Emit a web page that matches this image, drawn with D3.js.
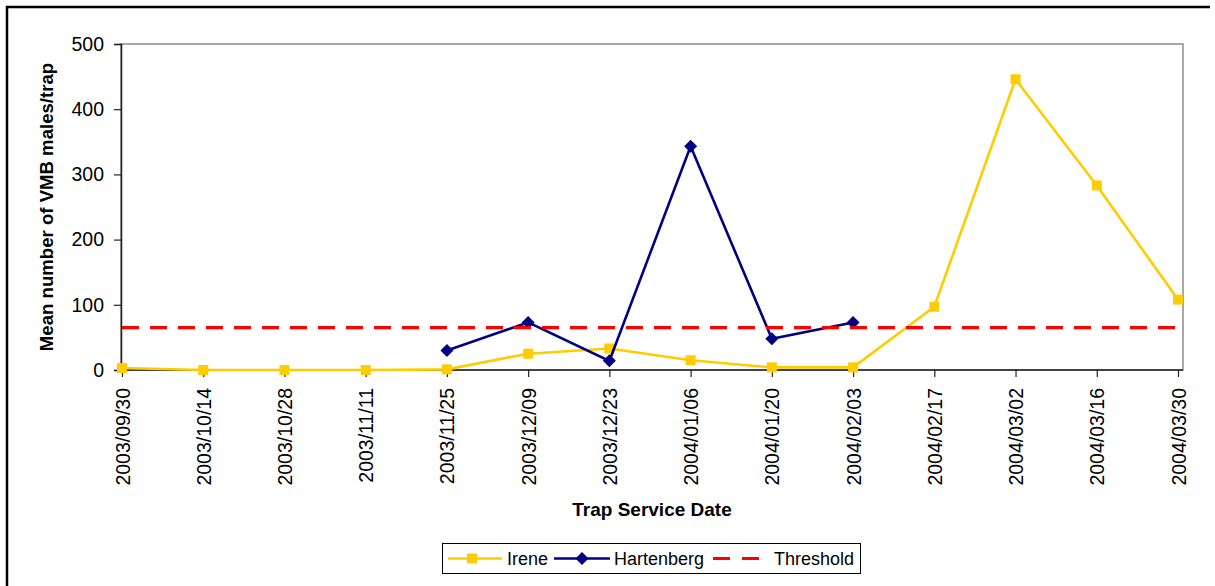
<!DOCTYPE html>
<html>
<head>
<meta charset="utf-8">
<script src="https://cdn.jsdelivr.net/npm/d3@7"></script>
<style>
  body { margin: 0; background: #fff; }
  text { font-family: "Liberation Sans", Arial, sans-serif; fill: #000; }
</style>
</head>
<body>
<div id="chart"></div>
<script>
//////////////////////////////////////////////////////////////////////////////
// Data

var dates = ["2003/09/30", "2003/10/14", "2003/10/28", "2003/11/11", "2003/11/25",
             "2003/12/09", "2003/12/23", "2004/01/06", "2004/01/20", "2004/02/03",
             "2004/02/17", "2004/03/02", "2004/03/16", "2004/03/30"];
var irene = [3, 0, 0, 0, 1, 25, 33, 15, 4, 4, 97, 446, 283, 108];
var hartenberg = [null, null, null, null, 30, 73, 14, 343, 48, 73, null, null, null, null];
var threshold = [65, 65, 65, 65, 65, 65, 65, 65, 65, 65, 65, 65, 65, 65];
var yTicks = [0, 100, 200, 300, 400, 500];

//////////////////////////////////////////////////////////////////////////////
// Preliminaries

var width = 1215, height = 586;
var plotLeft = 121, plotRight = 1183, plotTop = 44, plotBottom = 370;

var xScale = d3.scalePoint().domain(dates).range([122, 1178]);
var yScale = d3.scaleLinear().domain([0, 500]).range([plotBottom, plotTop]);

var svg = d3.select("#chart")
    .append("svg")
    .attr("width", width)
    .attr("height", height);

// outer chart border (only top and left visible)
svg.append("path")
    .attr("d", "M7,586V7H1210")
    .attr("fill", "none")
    .attr("stroke", "#000")
    .attr("stroke-width", 2.5);

// plot frame
svg.append("rect")
    .attr("x", plotLeft).attr("y", plotTop)
    .attr("width", plotRight - plotLeft)
    .attr("height", plotBottom - plotTop)
    .attr("fill", "none")
    .attr("stroke", "#8c8c8c")
    .attr("stroke-width", 1.5);

//////////////////////////////////////////////////////////////////////////////
// Axes

var yAxis = svg.append("g")
    .attr("transform", "translate(" + plotLeft + ",0)")
    .call(d3.axisLeft(yScale).tickValues(yTicks).tickSize(7).tickPadding(10));
yAxis.select(".domain").attr("stroke", "#222").attr("stroke-width", 1.5);
yAxis.selectAll(".tick line").attr("stroke", "#222").attr("stroke-width", 1.2);
yAxis.selectAll(".tick text")
    .style("font-family", '"Liberation Sans", Arial, sans-serif')
    .style("font-size", "19.5px")
    .attr("fill", "#000");

var xAxis = svg.append("g")
    .attr("transform", "translate(0," + plotBottom + ")")
    .call(d3.axisBottom(xScale).tickSize(7).tickSizeOuter(0));
xAxis.select(".domain")
    .attr("d", "M" + plotLeft + ",0H" + plotRight)
    .attr("stroke", "#222").attr("stroke-width", 1.5);
xAxis.selectAll(".tick line").attr("stroke", "#222").attr("stroke-width", 1.2);
xAxis.selectAll(".tick text")
    .style("font-family", '"Liberation Sans", Arial, sans-serif')
    .style("font-size", "19.5px")
    .attr("fill", "#000")
    .attr("text-anchor", "end")
    .attr("transform", "rotate(-90)")
    .attr("x", -18)
    .attr("y", 0)
    .attr("dy", "0.36em");

// axis titles
svg.append("text")
    .attr("x", 652).attr("y", 516)
    .attr("text-anchor", "middle")
    .style("font-size", "19px")
    .style("font-weight", "bold")
    .text("Trap Service Date");

svg.append("text")
    .attr("transform", "translate(53,207) rotate(-90)")
    .attr("text-anchor", "middle")
    .style("font-size", "18.6px")
    .style("font-weight", "bold")
    .text("Mean number of VMB males/trap");

//////////////////////////////////////////////////////////////////////////////
// Series

function seriesLine(values) {
    return d3.line()
        .defined(function(d) { return d != null; })
        .x(function(d, i) { return xScale(dates[i]); })
        .y(function(d) { return yScale(d); })(values);
}

function pointsOf(values) {
    return values
        .map(function(d, i) { return { date: dates[i], v: d }; })
        .filter(function(d) { return d.v != null; });
}

var diamond = "M0,-6.5L6.5,0L0,6.5L-6.5,0Z";

// Irene
svg.append("path")
    .attr("d", seriesLine(irene))
    .attr("fill", "none")
    .attr("stroke", "#FFCC00")
    .attr("stroke-width", 2.6);
svg.append("g")
    .selectAll("rect")
    .data(pointsOf(irene))
    .enter()
    .append("rect")
    .attr("x", function(d) { return xScale(d.date) - 5; })
    .attr("y", function(d) { return yScale(d.v) - 5; })
    .attr("width", 10)
    .attr("height", 10)
    .attr("fill", "#FFCC00");

// Hartenberg
svg.append("path")
    .attr("d", seriesLine(hartenberg))
    .attr("fill", "none")
    .attr("stroke", "#000080")
    .attr("stroke-width", 2.6);
svg.append("g")
    .selectAll("path")
    .data(pointsOf(hartenberg))
    .enter()
    .append("path")
    .attr("transform", function(d) {
        return "translate(" + xScale(d.date) + "," + yScale(d.v) + ")";
    })
    .attr("d", diamond)
    .attr("fill", "#000080");

// Threshold
svg.append("path")
    .attr("d", seriesLine(threshold))
    .attr("fill", "none")
    .attr("stroke", "#FF0000")
    .attr("stroke-width", 3.2)
    .attr("stroke-dasharray", "17,11");

//////////////////////////////////////////////////////////////////////////////
// Legend

var legend = svg.append("g");
legend.append("rect")
    .attr("x", 442.5).attr("y", 543.5)
    .attr("width", 418).attr("height", 30)
    .attr("fill", "#fff")
    .attr("stroke", "#000")
    .attr("stroke-width", 1);

var ly = 558.5;
legend.append("line")
    .attr("x1", 448).attr("x2", 502).attr("y1", ly).attr("y2", ly)
    .attr("stroke", "#FFCC00").attr("stroke-width", 2.6);
legend.append("rect")
    .attr("x", 467).attr("y", ly - 5).attr("width", 10).attr("height", 10)
    .attr("fill", "#FFCC00");
legend.append("text")
    .attr("x", 507).attr("y", ly).attr("dy", "0.35em")
    .style("font-size", "18px")
    .text("Irene");

legend.append("line")
    .attr("x1", 554).attr("x2", 610).attr("y1", ly).attr("y2", ly)
    .attr("stroke", "#000080").attr("stroke-width", 2.6);
legend.append("path")
    .attr("transform", "translate(582," + ly + ")")
    .attr("d", diamond)
    .attr("fill", "#000080");
legend.append("text")
    .attr("x", 614).attr("y", ly).attr("dy", "0.35em")
    .style("font-size", "18px")
    .text("Hartenberg");

legend.append("line")
    .attr("x1", 713).attr("x2", 760).attr("y1", ly).attr("y2", ly)
    .attr("stroke", "#FF0000").attr("stroke-width", 3.2)
    .attr("stroke-dasharray", "17,12");
legend.append("text")
    .attr("x", 774).attr("y", ly).attr("dy", "0.35em")
    .style("font-size", "18px")
    .text("Threshold");
</script>
</body>
</html>
